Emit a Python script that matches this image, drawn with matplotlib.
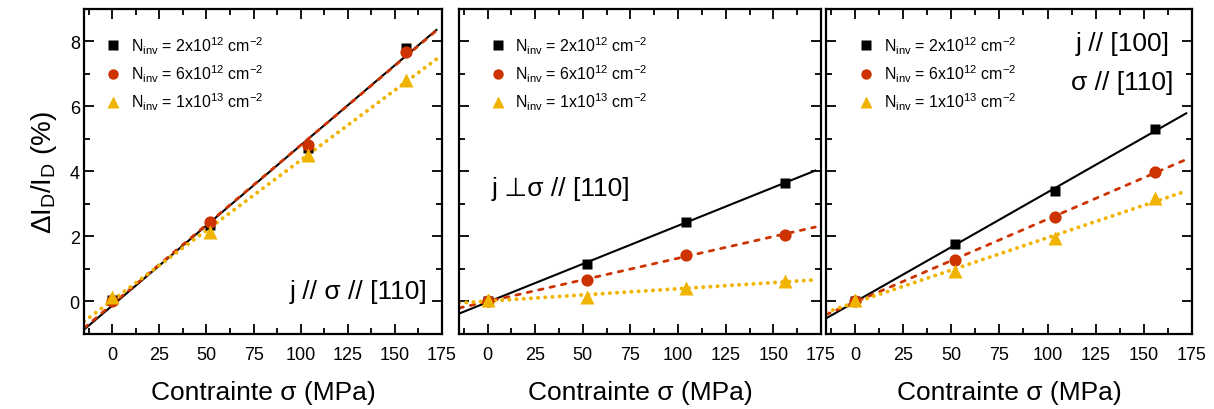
import numpy as np
import matplotlib
matplotlib.use('Agg')
import matplotlib.pyplot as plt
from matplotlib.lines import Line2D
from matplotlib.ticker import MultipleLocator

plt.rcParams['font.family'] = ['Liberation Sans', 'DejaVu Sans']
plt.rcParams['mathtext.default'] = 'regular'

# Contrainte appliquee (MPa)
stress = [0, 52, 104, 156]

# Panneau 1 : j // sigma // [110]
p1_2e12 = [0.03, 2.35, 4.71, 7.79]
p1_6e12 = [0.0, 2.43, 4.81, 7.69]
p1_1e13 = [0.13, 2.14, 4.50, 6.82]

# Panneau 2 : j perp sigma // [110]
p2_2e12 = [0.0, 1.16, 2.45, 3.65]
p2_6e12 = [0.0, 0.67, 1.42, 2.06]
p2_1e13 = [0.05, 0.15, 0.41, 0.62]

# Panneau 3 : j // [100], sigma // [110]
p3_2e12 = [0.0, 1.76, 3.41, 5.30]
p3_6e12 = [0.0, 1.29, 2.60, 3.99]
p3_1e13 = [0.05, 0.93, 1.94, 3.17]

labels = [r'N$_{inv}$ = 2x10$^{12}$ cm$^{-2}$',
          r'N$_{inv}$ = 6x10$^{12}$ cm$^{-2}$',
          r'N$_{inv}$ = 1x10$^{13}$ cm$^{-2}$']
xticks = [0, 25, 50, 75, 100, 125, 150, 175]

black = '#000000'
red = '#CC3300'
yellow = '#F0B400'

styles = [
    dict(color=black, marker='s', ms=7.8, ls='-', lw=1.5),
    dict(color=red, marker='o', ms=8.8, ls=(0, (1.6, 2.6)), lw=2.0),
    dict(color=yellow, marker='^', ms=9.8, ls=(0, (0.05, 1.8)), lw=2.8),
]

panels = [
    (p1_2e12, p1_6e12, p1_1e13),
    (p2_2e12, p2_6e12, p2_1e13),
    (p3_2e12, p3_6e12, p3_1e13),
]

fig = plt.figure(figsize=(12.14, 4.10), dpi=100)
lefts = [0.0692, 0.3781, 0.6804]
widths = [0.2949, 0.2982, 0.3015]
leg_x = [0.060, 0.085, 0.088]

fit_x = np.linspace(-15, 172, 50)

for k, series in enumerate(panels):
    ax = fig.add_axes([lefts[k], 0.183, widths[k], 0.7927])
    for ys, st in zip(series, styles):
        a, b = np.polyfit(stress, ys, 1)
        ax.plot(fit_x, a * fit_x + b, color=st['color'], ls=st['ls'],
                lw=st['lw'], dash_capstyle='round', zorder=2)
        ax.plot(stress, ys, st['marker'], color=st['color'], ms=st['ms'],
                mec='none', zorder=3)

    ax.set_xlim(-15, 175)
    ax.set_ylim(-1, 9)
    ax.set_xticks(xticks)
    ax.xaxis.set_minor_locator(MultipleLocator(12.5))
    ax.set_yticks([0, 2, 4, 6, 8])
    ax.yaxis.set_minor_locator(MultipleLocator(1))
    ax.tick_params(which='both', direction='in', top=True, right=True,
                   width=1.3, labelsize=13)
    ax.tick_params(which='major', length=7)
    ax.tick_params(which='minor', length=4)
    ax.tick_params(axis='x', pad=9)
    ax.tick_params(axis='y', pad=3)
    for sp in ax.spines.values():
        sp.set_linewidth(1.6)
    if k > 0:
        ax.set_yticklabels([])
    else:
        ax.set_ylabel(r'$\Delta$I$_D$/I$_D$ (%)', fontsize=20, labelpad=8)
    ax.set_xlabel('Contrainte σ (MPa)', fontsize=19, labelpad=12)

    handles = [Line2D([], [], ls='none', marker=st['marker'], color=st['color'],
                      ms=st['ms'] * 0.85, mec='none') for st in styles]
    ax.legend(handles, labels, loc='upper left', bbox_to_anchor=(leg_x[k], 0.922),
              frameon=False, fontsize=11.5, handlelength=1.0, handletextpad=0.6,
              labelspacing=0.42, borderpad=0, borderaxespad=0)

    if k == 0:
        ax.text(0.958, 0.132, 'j // σ // [110]', transform=ax.transAxes,
                ha='right', va='center', fontsize=19)
    elif k == 1:
        ax.text(0.091, 0.449, 'j ⊥σ // [110]', transform=ax.transAxes,
                ha='left', va='center', fontsize=19,
                family=['Liberation Sans', 'DejaVu Sans'])
    else:
        ax.text(0.940, 0.895, 'j // [100]', transform=ax.transAxes,
                ha='right', va='center', fontsize=19)
        ax.text(0.950, 0.775, 'σ // [110]', transform=ax.transAxes,
                ha='right', va='center', fontsize=19)

fig.savefig('out.png', dpi=100)
